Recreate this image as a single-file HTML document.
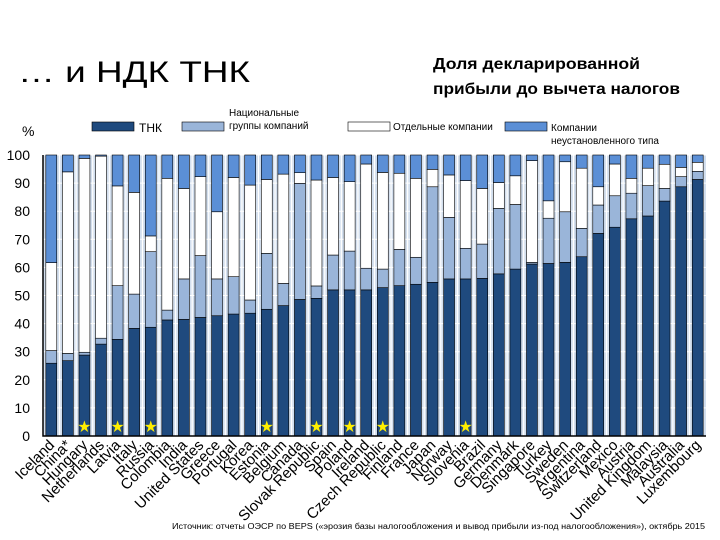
<!DOCTYPE html>
<html><head><meta charset="utf-8"><style>
body{margin:0;background:#fff;}
svg{display:block;font-family:"Liberation Sans","Noto Sans CJK SC",sans-serif;}
</style></head><body>
<svg id="c" width="720" height="540" viewBox="0 0 720 540">
<text x="18" y="82" font-size="30" textLength="232" lengthAdjust="spacingAndGlyphs" fill="#000">… и НДК ТНК</text>
<text x="433" y="69" font-size="16" font-weight="bold" textLength="207" lengthAdjust="spacingAndGlyphs">Доля декларированной</text>
<text x="433" y="94" font-size="16" font-weight="bold" textLength="247" lengthAdjust="spacingAndGlyphs">прибыли до вычета налогов</text>
<text x="22" y="136" font-size="14">%</text>
<g>
<rect x="92" y="122" width="42" height="9" fill="#1f4a7e" stroke="#000" stroke-width="0.6"/>
<text x="139" y="132" font-size="12">ТНК</text>
<rect x="182" y="122" width="42" height="9" fill="#9ab5d9" stroke="#000" stroke-width="0.6"/>
<text x="229" y="116" font-size="10">Национальные</text>
<text x="229" y="129" font-size="10">группы компаний</text>
<rect x="348" y="122" width="42" height="9" fill="#fff" stroke="#000" stroke-width="0.6"/>
<text x="393" y="130" font-size="10">Отдельные компании</text>
<rect x="505" y="122" width="42" height="9" fill="#5b8fd6" stroke="#000" stroke-width="0.6"/>
<text x="551" y="131" font-size="10">Компании</text>
<text x="551" y="144" font-size="10">неустановленного типа</text>
</g>
<g id="plot"></g>
<text x="172" y="529" font-size="8" textLength="533" lengthAdjust="spacingAndGlyphs">Источник: отчеты ОЭСР по BEPS («эрозия базы налогообложения и вывод прибыли из-под налогообложения»), октябрь 2015</text>
</svg>
<script>
const countries=["Iceland","China*","Hungary","Netherlands","Latvia","Italy","Russia","Colombia","India","United States","Greece","Portugal","Korea","Estonia","Belgium","Canada","Slovak Republic","Spain","Poland","Ireland","Czech Republic","Finland","France","Japan","Norway","Slovenia","Brazil","Germany","Denmark","Singapore","Turkey","Sweden","Argentina","Switzerland","Mexico","Austria","United Kingdom","Malaysia","Australia","Luxembourg"];
const tnk=[25.9,26.8,28.8,32.7,34.4,38.3,38.7,41.3,41.5,42.2,42.8,43.4,43.7,45.1,46.4,48.6,49,52,52,52,52.8,53.5,54,54.7,55.9,55.9,56.1,57.7,59.4,61.2,61.4,61.8,63.8,72.1,74.3,77.3,78.3,83.6,88.7,91.3];
const groups=[4.5,2.6,1.0,2.1,19.1,12.2,26.9,3.5,14.4,22.0,13.1,13.3,4.7,19.9,7.9,41.3,4.4,12.4,13.8,7.7,6.6,12.9,9.6,34.0,21.9,10.9,12.2,23.3,23.0,0.6,16.1,18.0,10.1,10.1,11.2,9.1,10.8,4.5,3.6,2.9];
const separate=[31.3,64.6,69.0,64.8,35.5,36.2,5.6,46.9,32.2,28.1,23.9,35.3,40.9,26.3,38.9,3.8,37.7,27.6,24.7,37.1,34.4,27.1,28.1,6.2,15.1,24.1,19.8,9.2,10.2,36.2,6.2,17.8,21.4,6.5,11.3,5.3,6.2,8.6,3.3,3.2];
const stars=["Hungary","Latvia","Russia","Estonia","Slovak Republic","Poland","Czech Republic","Slovenia"];
const yTicks=[0,10,20,30,40,50,60,70,80,90,100];
const NS="http://www.w3.org/2000/svg";
const X0=43,X1=706,Y0=436,Y100=155;
const y=v=>Y0-(v/100)*(Y0-Y100);
const step=(X1-X0)/countries.length;
const xc=i=>X0+step*(i+0.5);
const bw=step*0.66;
const g=document.getElementById('plot');
function mk(t,a){const e=document.createElementNS(NS,t);for(const k in a)e.setAttribute(k,a[k]);g.appendChild(e);return e;}
const bg=mk('rect',{x:X0,y:Y100,width:X1-X0,height:Y0-Y100,fill:'#d3dfee'});


yTicks.forEach(t=>{
 const l=mk('line',{x1:X0,x2:X1,y1:y(t),y2:y(t),stroke:'#fff','stroke-width':1});
 
 
 const tx=mk('text',{x:30,y:y(t)+5,'font-size':14,'text-anchor':'end'});
 tx.textContent=t;
 
 
});
countries.forEach((c,i)=>{
 const vl=mk('line',{x1:X0+step*i,x2:X0+step*i,y1:Y100,y2:Y0,stroke:'#fff','stroke-width':1.2});
 
 
 const segs=[[0,tnk[i],'#1f4a7e'],[tnk[i],tnk[i]+groups[i],'#9ab5d9'],[tnk[i]+groups[i],tnk[i]+groups[i]+separate[i],'#ffffff'],[tnk[i]+groups[i]+separate[i],100,'#5b8fd6']];
 const names=['tnk','groups','separate','unknown'];
 segs.forEach((s,k)=>{
  if(s[1]-s[0]<=0)return;
  const r=mk('rect',{x:xc(i)-bw/2,y:y(s[1]),width:bw,height:y(s[0])-y(s[1]),fill:s[2],stroke:'#000','stroke-width':0.6});
  
  
 });
 if(stars.includes(c)){
  const s=mk('text',{x:xc(i),y:y(0)-5,'font-size':13,'text-anchor':'middle',fill:'#ffee00'});
  s.textContent='★';
  
  
 }
 const lb=mk('text',{x:xc(i)+4,y:446,'font-size':15,'text-anchor':'end',transform:`rotate(-45 ${xc(i)+4} 446)`});
 lb.textContent=c;
 
 
});
const ax=mk('path',{d:`M${X0} ${Y100} V${Y0} H${X1}`,fill:'none',stroke:'#000','stroke-width':1.5});


</script>
</body></html>
